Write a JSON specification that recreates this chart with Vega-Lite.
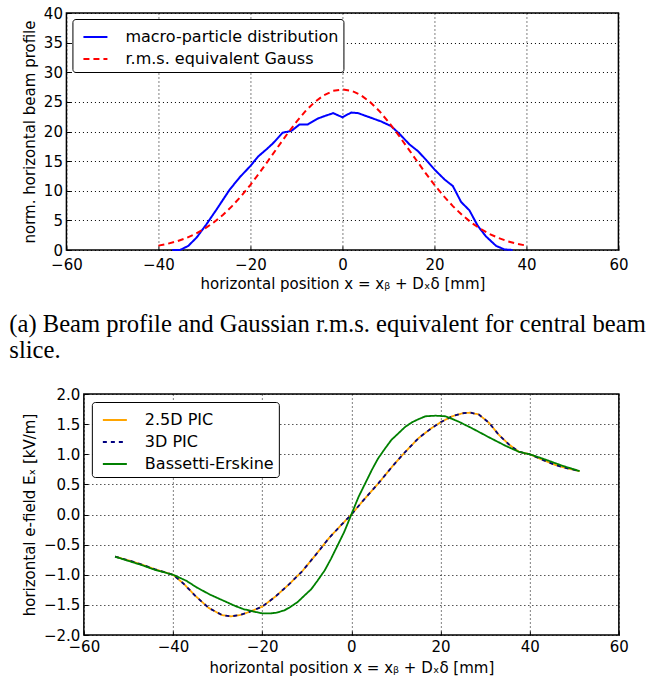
{
  "$schema": "https://vega.github.io/schema/vega-lite/v6.json",
  "padding": {"left": 8, "top": 5, "right": 2, "bottom": 4},
  "spacing": 22,
  "center": true,
  "resolve": {"scale": {"color": "independent", "strokeDash": "independent"}},
  "config": {
    "font": "DejaVu Sans",
    "view": {"stroke": "black", "strokeWidth": 1.5},
    "axis": {
      "labelFont": "DejaVu Sans", "labelFontSize": 15, "labelColor": "black",
      "titleFont": "DejaVu Sans", "titleFontSize": 15, "titleFontWeight": "normal", "titleColor": "black",
      "domain": false, "ticks": true, "tickSize": -4, "tickColor": "black", "tickWidth": 1,
      "grid": true, "gridColor": "black", "gridDash": [1, 3], "gridOpacity": 1, "gridWidth": 1,
      "labelFlush": false, "labelOverlap": false
    },
    "legend": {
      "orient": "top-left", "fillColor": "white", "strokeColor": "black", "cornerRadius": 3, "padding": 5,
      "labelFont": "DejaVu Sans", "labelFontSize": 16, "labelColor": "black", "labelLimit": 400,
      "symbolSize": 576, "symbolStrokeWidth": 2, "rowPadding": 1, "labelOffset": 17, "symbolOffset": 5, "symbolType": "stroke"
    },
    "line": {"strokeWidth": 2, "strokeCap": "butt"}
  },
  "datasets": {
    "profile": [
      {"x": -37, "y": 0, "series": "macro-particle distribution"},
      {"x": -35.3, "y": 0, "series": "macro-particle distribution"},
      {"x": -33.5, "y": 0.7, "series": "macro-particle distribution"},
      {"x": -31.7, "y": 2.1, "series": "macro-particle distribution"},
      {"x": -29.6, "y": 4.3, "series": "macro-particle distribution"},
      {"x": -27.4, "y": 6.8, "series": "macro-particle distribution"},
      {"x": -24.5, "y": 10.2, "series": "macro-particle distribution"},
      {"x": -22.3, "y": 12.3, "series": "macro-particle distribution"},
      {"x": -20.1, "y": 14.1, "series": "macro-particle distribution"},
      {"x": -18.3, "y": 15.8, "series": "macro-particle distribution"},
      {"x": -16.5, "y": 17.0, "series": "macro-particle distribution"},
      {"x": -15.1, "y": 18.0, "series": "macro-particle distribution"},
      {"x": -13.0, "y": 19.8, "series": "macro-particle distribution"},
      {"x": -11.1, "y": 20.1, "series": "macro-particle distribution"},
      {"x": -9.3, "y": 21.2, "series": "macro-particle distribution"},
      {"x": -7.5, "y": 21.2, "series": "macro-particle distribution"},
      {"x": -5.3, "y": 22.2, "series": "macro-particle distribution"},
      {"x": -3.9, "y": 22.6, "series": "macro-particle distribution"},
      {"x": -2.0, "y": 23.1, "series": "macro-particle distribution"},
      {"x": 0, "y": 22.4, "series": "macro-particle distribution"},
      {"x": 1.9, "y": 23.2, "series": "macro-particle distribution"},
      {"x": 3.4, "y": 23.1, "series": "macro-particle distribution"},
      {"x": 5.9, "y": 22.4, "series": "macro-particle distribution"},
      {"x": 8.4, "y": 21.7, "series": "macro-particle distribution"},
      {"x": 10.6, "y": 20.9, "series": "macro-particle distribution"},
      {"x": 12.4, "y": 19.6, "series": "macro-particle distribution"},
      {"x": 14.6, "y": 17.8, "series": "macro-particle distribution"},
      {"x": 16.4, "y": 16.7, "series": "macro-particle distribution"},
      {"x": 18.2, "y": 15.2, "series": "macro-particle distribution"},
      {"x": 20.0, "y": 13.6, "series": "macro-particle distribution"},
      {"x": 22.2, "y": 11.9, "series": "macro-particle distribution"},
      {"x": 24.0, "y": 10.8, "series": "macro-particle distribution"},
      {"x": 25.8, "y": 8.1, "series": "macro-particle distribution"},
      {"x": 27.6, "y": 6.7, "series": "macro-particle distribution"},
      {"x": 29.4, "y": 4.1, "series": "macro-particle distribution"},
      {"x": 31.2, "y": 2.3, "series": "macro-particle distribution"},
      {"x": 33.4, "y": 0.7, "series": "macro-particle distribution"},
      {"x": 35.2, "y": 0.1, "series": "macro-particle distribution"},
      {"x": 37, "y": 0, "series": "macro-particle distribution"},
      {"x": -40, "y": 0.74, "series": "r.m.s. equivalent Gauss"},
      {"x": -38, "y": 1.05, "series": "r.m.s. equivalent Gauss"},
      {"x": -36, "y": 1.46, "series": "r.m.s. equivalent Gauss"},
      {"x": -34, "y": 2.0, "series": "r.m.s. equivalent Gauss"},
      {"x": -32, "y": 2.7, "series": "r.m.s. equivalent Gauss"},
      {"x": -30, "y": 3.57, "series": "r.m.s. equivalent Gauss"},
      {"x": -28, "y": 4.64, "series": "r.m.s. equivalent Gauss"},
      {"x": -26, "y": 5.91, "series": "r.m.s. equivalent Gauss"},
      {"x": -24, "y": 7.41, "series": "r.m.s. equivalent Gauss"},
      {"x": -22, "y": 9.11, "series": "r.m.s. equivalent Gauss"},
      {"x": -20, "y": 11.0, "series": "r.m.s. equivalent Gauss"},
      {"x": -18, "y": 13.06, "series": "r.m.s. equivalent Gauss"},
      {"x": -16, "y": 15.23, "series": "r.m.s. equivalent Gauss"},
      {"x": -14, "y": 17.42, "series": "r.m.s. equivalent Gauss"},
      {"x": -12, "y": 19.59, "series": "r.m.s. equivalent Gauss"},
      {"x": -10, "y": 21.63, "series": "r.m.s. equivalent Gauss"},
      {"x": -8, "y": 23.47, "series": "r.m.s. equivalent Gauss"},
      {"x": -6, "y": 24.99, "series": "r.m.s. equivalent Gauss"},
      {"x": -4, "y": 26.14, "series": "r.m.s. equivalent Gauss"},
      {"x": -2, "y": 26.86, "series": "r.m.s. equivalent Gauss"},
      {"x": 0, "y": 27.1, "series": "r.m.s. equivalent Gauss"},
      {"x": 2, "y": 26.86, "series": "r.m.s. equivalent Gauss"},
      {"x": 4, "y": 26.14, "series": "r.m.s. equivalent Gauss"},
      {"x": 6, "y": 24.99, "series": "r.m.s. equivalent Gauss"},
      {"x": 8, "y": 23.47, "series": "r.m.s. equivalent Gauss"},
      {"x": 10, "y": 21.63, "series": "r.m.s. equivalent Gauss"},
      {"x": 12, "y": 19.59, "series": "r.m.s. equivalent Gauss"},
      {"x": 14, "y": 17.42, "series": "r.m.s. equivalent Gauss"},
      {"x": 16, "y": 15.23, "series": "r.m.s. equivalent Gauss"},
      {"x": 18, "y": 13.06, "series": "r.m.s. equivalent Gauss"},
      {"x": 20, "y": 11.0, "series": "r.m.s. equivalent Gauss"},
      {"x": 22, "y": 9.11, "series": "r.m.s. equivalent Gauss"},
      {"x": 24, "y": 7.41, "series": "r.m.s. equivalent Gauss"},
      {"x": 26, "y": 5.91, "series": "r.m.s. equivalent Gauss"},
      {"x": 28, "y": 4.64, "series": "r.m.s. equivalent Gauss"},
      {"x": 30, "y": 3.57, "series": "r.m.s. equivalent Gauss"},
      {"x": 32, "y": 2.7, "series": "r.m.s. equivalent Gauss"},
      {"x": 34, "y": 2.0, "series": "r.m.s. equivalent Gauss"},
      {"x": 36, "y": 1.46, "series": "r.m.s. equivalent Gauss"},
      {"x": 38, "y": 1.05, "series": "r.m.s. equivalent Gauss"},
      {"x": 40, "y": 0.74, "series": "r.m.s. equivalent Gauss"}
    ],
    "field": [
      {"x": -53, "y": -0.70, "series": "2.5D PIC"},
      {"x": -50, "y": -0.76, "series": "2.5D PIC"},
      {"x": -47, "y": -0.83, "series": "2.5D PIC"},
      {"x": -44, "y": -0.91, "series": "2.5D PIC"},
      {"x": -40, "y": -1.0, "series": "2.5D PIC"},
      {"x": -37.6, "y": -1.15, "series": "2.5D PIC"},
      {"x": -35, "y": -1.35, "series": "2.5D PIC"},
      {"x": -32, "y": -1.55, "series": "2.5D PIC"},
      {"x": -29, "y": -1.67, "series": "2.5D PIC"},
      {"x": -27, "y": -1.69, "series": "2.5D PIC"},
      {"x": -25, "y": -1.67, "series": "2.5D PIC"},
      {"x": -23, "y": -1.62, "series": "2.5D PIC"},
      {"x": -20, "y": -1.53, "series": "2.5D PIC"},
      {"x": -17, "y": -1.36, "series": "2.5D PIC"},
      {"x": -14, "y": -1.16, "series": "2.5D PIC"},
      {"x": -11, "y": -0.94, "series": "2.5D PIC"},
      {"x": -8, "y": -0.67, "series": "2.5D PIC"},
      {"x": -5, "y": -0.39, "series": "2.5D PIC"},
      {"x": -2.6, "y": -0.2, "series": "2.5D PIC"},
      {"x": 0, "y": 0.0, "series": "2.5D PIC"},
      {"x": 3.1, "y": 0.27, "series": "2.5D PIC"},
      {"x": 6.1, "y": 0.52, "series": "2.5D PIC"},
      {"x": 9.1, "y": 0.79, "series": "2.5D PIC"},
      {"x": 12.1, "y": 1.04, "series": "2.5D PIC"},
      {"x": 15.1, "y": 1.27, "series": "2.5D PIC"},
      {"x": 18.1, "y": 1.44, "series": "2.5D PIC"},
      {"x": 20, "y": 1.53, "series": "2.5D PIC"},
      {"x": 22.6, "y": 1.63, "series": "2.5D PIC"},
      {"x": 24.9, "y": 1.68, "series": "2.5D PIC"},
      {"x": 26.7, "y": 1.69, "series": "2.5D PIC"},
      {"x": 28.6, "y": 1.66, "series": "2.5D PIC"},
      {"x": 30.9, "y": 1.52, "series": "2.5D PIC"},
      {"x": 33.1, "y": 1.32, "series": "2.5D PIC"},
      {"x": 35.4, "y": 1.16, "series": "2.5D PIC"},
      {"x": 37.6, "y": 1.04, "series": "2.5D PIC"},
      {"x": 40, "y": 1.0, "series": "2.5D PIC"},
      {"x": 42.8, "y": 0.91, "series": "2.5D PIC"},
      {"x": 45.8, "y": 0.82, "series": "2.5D PIC"},
      {"x": 48.8, "y": 0.76, "series": "2.5D PIC"},
      {"x": 51.2, "y": 0.72, "series": "2.5D PIC"},
      {"x": -53, "y": -0.70, "series": "3D PIC"},
      {"x": -50, "y": -0.76, "series": "3D PIC"},
      {"x": -47, "y": -0.83, "series": "3D PIC"},
      {"x": -44, "y": -0.91, "series": "3D PIC"},
      {"x": -40, "y": -1.0, "series": "3D PIC"},
      {"x": -37.6, "y": -1.15, "series": "3D PIC"},
      {"x": -35, "y": -1.35, "series": "3D PIC"},
      {"x": -32, "y": -1.55, "series": "3D PIC"},
      {"x": -29, "y": -1.67, "series": "3D PIC"},
      {"x": -27, "y": -1.69, "series": "3D PIC"},
      {"x": -25, "y": -1.67, "series": "3D PIC"},
      {"x": -23, "y": -1.62, "series": "3D PIC"},
      {"x": -20, "y": -1.53, "series": "3D PIC"},
      {"x": -17, "y": -1.36, "series": "3D PIC"},
      {"x": -14, "y": -1.16, "series": "3D PIC"},
      {"x": -11, "y": -0.94, "series": "3D PIC"},
      {"x": -8, "y": -0.67, "series": "3D PIC"},
      {"x": -5, "y": -0.39, "series": "3D PIC"},
      {"x": -2.6, "y": -0.2, "series": "3D PIC"},
      {"x": 0, "y": 0.0, "series": "3D PIC"},
      {"x": 3.1, "y": 0.27, "series": "3D PIC"},
      {"x": 6.1, "y": 0.52, "series": "3D PIC"},
      {"x": 9.1, "y": 0.79, "series": "3D PIC"},
      {"x": 12.1, "y": 1.04, "series": "3D PIC"},
      {"x": 15.1, "y": 1.27, "series": "3D PIC"},
      {"x": 18.1, "y": 1.44, "series": "3D PIC"},
      {"x": 20, "y": 1.53, "series": "3D PIC"},
      {"x": 22.6, "y": 1.63, "series": "3D PIC"},
      {"x": 24.9, "y": 1.68, "series": "3D PIC"},
      {"x": 26.7, "y": 1.69, "series": "3D PIC"},
      {"x": 28.6, "y": 1.66, "series": "3D PIC"},
      {"x": 30.9, "y": 1.52, "series": "3D PIC"},
      {"x": 33.1, "y": 1.32, "series": "3D PIC"},
      {"x": 35.4, "y": 1.16, "series": "3D PIC"},
      {"x": 37.6, "y": 1.04, "series": "3D PIC"},
      {"x": 40, "y": 1.0, "series": "3D PIC"},
      {"x": 42.8, "y": 0.91, "series": "3D PIC"},
      {"x": 45.8, "y": 0.82, "series": "3D PIC"},
      {"x": 48.8, "y": 0.76, "series": "3D PIC"},
      {"x": 51.2, "y": 0.72, "series": "3D PIC"},
      {"x": -53, "y": -0.70, "series": "Bassetti-Erskine"},
      {"x": -50, "y": -0.77, "series": "Bassetti-Erskine"},
      {"x": -47, "y": -0.84, "series": "Bassetti-Erskine"},
      {"x": -44, "y": -0.92, "series": "Bassetti-Erskine"},
      {"x": -40, "y": -1.0, "series": "Bassetti-Erskine"},
      {"x": -37, "y": -1.1, "series": "Bassetti-Erskine"},
      {"x": -34.7, "y": -1.21, "series": "Bassetti-Erskine"},
      {"x": -31.7, "y": -1.33, "series": "Bassetti-Erskine"},
      {"x": -28.7, "y": -1.43, "series": "Bassetti-Erskine"},
      {"x": -26, "y": -1.52, "series": "Bassetti-Erskine"},
      {"x": -24.2, "y": -1.57, "series": "Bassetti-Erskine"},
      {"x": -22, "y": -1.61, "series": "Bassetti-Erskine"},
      {"x": -20, "y": -1.64, "series": "Bassetti-Erskine"},
      {"x": -18, "y": -1.64, "series": "Bassetti-Erskine"},
      {"x": -16.8, "y": -1.63, "series": "Bassetti-Erskine"},
      {"x": -15, "y": -1.59, "series": "Bassetti-Erskine"},
      {"x": -13.8, "y": -1.54, "series": "Bassetti-Erskine"},
      {"x": -12, "y": -1.45, "series": "Bassetti-Erskine"},
      {"x": -10.6, "y": -1.35, "series": "Bassetti-Erskine"},
      {"x": -9, "y": -1.24, "series": "Bassetti-Erskine"},
      {"x": -7.6, "y": -1.1, "series": "Bassetti-Erskine"},
      {"x": -6, "y": -0.93, "series": "Bassetti-Erskine"},
      {"x": -4.6, "y": -0.74, "series": "Bassetti-Erskine"},
      {"x": -3, "y": -0.5, "series": "Bassetti-Erskine"},
      {"x": -1.6, "y": -0.29, "series": "Bassetti-Erskine"},
      {"x": 0, "y": 0.0, "series": "Bassetti-Erskine"},
      {"x": 1.6, "y": 0.29, "series": "Bassetti-Erskine"},
      {"x": 3, "y": 0.5, "series": "Bassetti-Erskine"},
      {"x": 4.6, "y": 0.74, "series": "Bassetti-Erskine"},
      {"x": 6, "y": 0.93, "series": "Bassetti-Erskine"},
      {"x": 7.6, "y": 1.1, "series": "Bassetti-Erskine"},
      {"x": 9, "y": 1.24, "series": "Bassetti-Erskine"},
      {"x": 10.6, "y": 1.35, "series": "Bassetti-Erskine"},
      {"x": 12, "y": 1.45, "series": "Bassetti-Erskine"},
      {"x": 13.6, "y": 1.53, "series": "Bassetti-Erskine"},
      {"x": 15, "y": 1.58, "series": "Bassetti-Erskine"},
      {"x": 16.6, "y": 1.63, "series": "Bassetti-Erskine"},
      {"x": 18.9, "y": 1.64, "series": "Bassetti-Erskine"},
      {"x": 21.1, "y": 1.63, "series": "Bassetti-Erskine"},
      {"x": 22.5, "y": 1.59, "series": "Bassetti-Erskine"},
      {"x": 24.1, "y": 1.54, "series": "Bassetti-Erskine"},
      {"x": 27.1, "y": 1.43, "series": "Bassetti-Erskine"},
      {"x": 30.9, "y": 1.28, "series": "Bassetti-Erskine"},
      {"x": 34.6, "y": 1.14, "series": "Bassetti-Erskine"},
      {"x": 37.6, "y": 1.04, "series": "Bassetti-Erskine"},
      {"x": 40, "y": 1.0, "series": "Bassetti-Erskine"},
      {"x": 43.6, "y": 0.91, "series": "Bassetti-Erskine"},
      {"x": 47.3, "y": 0.81, "series": "Bassetti-Erskine"},
      {"x": 51.2, "y": 0.72, "series": "Bassetti-Erskine"}
    ]
  },
  "vconcat": [
    {
      "width": 552,
      "height": 237,
      "data": {"name": "profile"},
      "title": {
        "text": ["(a) Beam profile and Gaussian r.m.s. equivalent for central beam", "slice."],
        "orient": "bottom", "anchor": "start", "frame": "bounds",
        "font": "Liberation Serif", "fontSize": 24.6, "fontWeight": "normal", "color": "black",
        "lineHeight": 26, "offset": 22, "dx": -13
      },
      "mark": {"type": "line", "strokeWidth": 2},
      "encoding": {
        "x": {"field": "x", "type": "quantitative",
              "scale": {"domain": [-60, 60], "nice": false},
              "axis": {"title": "horizontal position x = xᵦ + Dₓδ [mm]", "values": [-60, -40, -20, 0, 20, 40, 60], "labelPadding": 11, "titlePadding": 4}},
        "y": {"field": "y", "type": "quantitative",
              "scale": {"domain": [0, 40], "nice": false},
              "axis": {"title": "norm. horizontal beam profile", "values": [0, 5, 10, 15, 20, 25, 30, 35, 40], "labelPadding": 8, "titlePadding": 6}},
        "color": {"field": "series", "type": "nominal",
                  "scale": {"domain": ["macro-particle distribution", "r.m.s. equivalent Gauss"], "range": ["#0000ff", "#ff0000"]},
                  "legend": {"title": null, "offset": 6}},
        "strokeDash": {"field": "series", "type": "nominal",
                  "scale": {"domain": ["macro-particle distribution", "r.m.s. equivalent Gauss"], "range": [[1, 0], [6, 4]]},
                  "legend": {"title": null, "offset": 6}}
      }
    },
    {
      "width": 535,
      "height": 241,
      "data": {"name": "field"},
      "mark": {"type": "line", "strokeWidth": 1.8},
      "encoding": {
        "x": {"field": "x", "type": "quantitative",
              "scale": {"domain": [-60, 60], "nice": false},
              "axis": {"title": "horizontal position x = xᵦ + Dₓδ [mm]", "values": [-60, -40, -20, 0, 20, 40, 60], "labelPadding": 8, "titlePadding": 6}},
        "y": {"field": "y", "type": "quantitative",
              "scale": {"domain": [-2, 2], "nice": false},
              "axis": {"title": "horizontal e-field Eₓ [kV/m]", "values": [-2, -1.5, -1, -0.5, 0, 0.5, 1, 1.5, 2], "format": ".1f", "labelPadding": 8, "titlePadding": 6}},
        "color": {"field": "series", "type": "nominal",
                  "scale": {"domain": ["2.5D PIC", "3D PIC", "Bassetti-Erskine"], "range": ["#ffa500", "#000080", "#008000"]},
                  "legend": {"title": null, "offset": 8}},
        "strokeDash": {"field": "series", "type": "nominal",
                  "scale": {"domain": ["2.5D PIC", "3D PIC", "Bassetti-Erskine"], "range": [[1, 0], [4, 4], [1, 0]]},
                  "legend": {"title": null, "offset": 8}}
      }
    }
  ]
}
